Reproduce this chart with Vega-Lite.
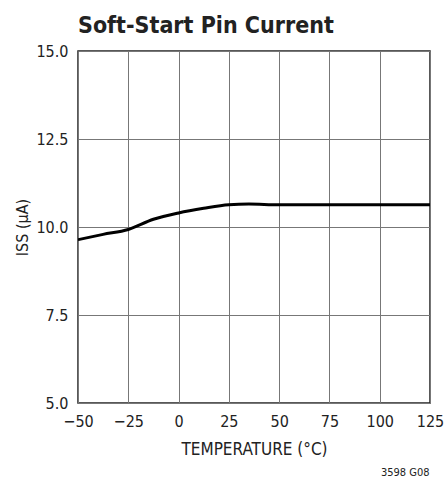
{
  "$schema": "https://vega.github.io/schema/vega-lite/v6.json",
  "background": "white",
  "padding": {"left": 13, "top": 14, "right": 5, "bottom": 0},
  "config": {
    "font": "DejaVu Sans Condensed",
    "view": {"stroke": "#222", "strokeWidth": 1.5},
    "axis": {"labelFont": "DejaVu Sans Condensed", "titleFont": "DejaVu Sans Condensed", "labelColor": "#222", "titleColor": "#222", "titleFontWeight": "normal"}
  },
  "title": {"text": "3598 G08", "orient": "bottom", "anchor": "end", "fontSize": 11, "fontWeight": "normal", "color": "#222", "font": "DejaVu Sans Condensed", "offset": 9, "dx": -15},
  "vconcat": [
    {
      "title": {"text": "Soft-Start Pin Current", "anchor": "start", "frame": "group", "fontSize": 23, "fontWeight": "bold", "font": "DejaVu Sans Condensed", "color": "#222", "offset": 5},
      "width": 352,
      "height": 352,
      "data": {"values": [
        {"t": -50, "i": 9.64},
        {"t": -37.5, "i": 9.79},
        {"t": -25, "i": 9.93},
        {"t": -12.5, "i": 10.22},
        {"t": 0, "i": 10.4},
        {"t": 12.5, "i": 10.53},
        {"t": 25, "i": 10.63},
        {"t": 35, "i": 10.65},
        {"t": 50, "i": 10.63},
        {"t": 75, "i": 10.63},
        {"t": 100, "i": 10.63},
        {"t": 125, "i": 10.63}
      ]},
      "mark": {"type": "line", "color": "black", "strokeWidth": 3, "interpolate": "monotone", "clip": true},
      "encoding": {
        "x": {"field": "t", "type": "quantitative", "scale": {"domain": [-50, 125], "nice": false},
          "axis": {"values": [-50, -25, 0, 25, 50, 75, 100, 125], "title": "TEMPERATURE (°C)", "ticks": false, "domain": false, "grid": true, "gridColor": "#777", "gridWidth": 1, "labelFontSize": 16, "labelPadding": 10, "titleFontSize": 17, "titlePadding": 12, "labelFlush": false}},
        "y": {"field": "i", "type": "quantitative", "scale": {"domain": [5, 15], "nice": false},
          "axis": {"values": [5, 7.5, 10, 12.5, 15], "format": ".1f", "title": "ISS (µA)", "ticks": false, "domain": false, "grid": true, "gridColor": "#777", "gridWidth": 1, "labelFontSize": 16, "labelPadding": 10, "titleFontSize": 16, "titlePadding": 8, "minExtent": 40, "maxExtent": 40}}
      }
    }
  ]
}
